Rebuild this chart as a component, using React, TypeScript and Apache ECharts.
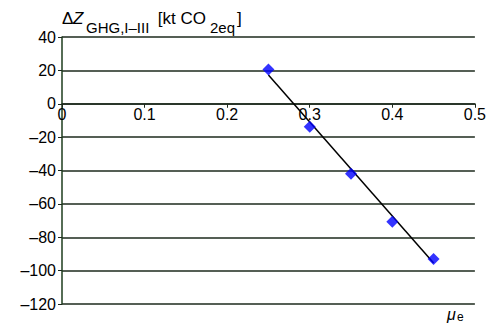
import React, { useEffect, useRef } from "react";
import * as echarts from "echarts";

const muValues = [0.25, 0.3, 0.35, 0.4, 0.45];
const deltaZ = [20.5, -13.8, -42, -70.7, -93];
const trendX = [0.25, 0.45];
const trendY = [17.2, -95.5];
const yTicks = { min: -120, max: 40, interval: 20 };
const xTicks = { min: 0, max: 0.5, interval: 0.1 };

const FONT = "Liberation Sans, Arial, sans-serif";
const GRID = "#1d2a1d";
const TOP = 37;
const BOTTOM = 20;
const H = 324;

export default function App() {
  const ref = useRef<HTMLDivElement>(null);
  useEffect(() => {
    if (!ref.current) return;
    const chart = echarts.init(ref.current, undefined, { renderer: "svg" });
    const fmt = (v: number) => (v < 0 ? "\u2013" + Math.abs(v) : String(v));
    const plotH = H - TOP - BOTTOM;
    const zeroOffset = -plotH * (0 - yTicks.min) / (yTicks.max - yTicks.min);
    chart.setOption({
      animation: false,
      backgroundColor: "#ffffff",
      grid: { left: 62, right: 10, top: TOP, bottom: BOTTOM, containLabel: false },
      xAxis: {
        type: "value",
        min: xTicks.min,
        max: xTicks.max,
        interval: xTicks.interval,
        offset: zeroOffset,
        axisLine: { onZero: false, lineStyle: { color: GRID, width: 1.5 } },
        axisTick: { show: true, length: 4, lineStyle: { color: GRID } },
        axisLabel: {
          color: "#000",
          fontFamily: FONT,
          fontSize: 16,
          margin: 3,
          formatter: (v: number) => (v === 0 ? "0" : v.toFixed(1)),
        },
        splitLine: { show: false },
      },
      yAxis: {
        type: "value",
        min: yTicks.min,
        max: yTicks.max,
        interval: yTicks.interval,
        axisLine: { show: true, onZero: false, lineStyle: { color: "#1e3d1e", width: 1.5 } },
        axisTick: { show: true, length: 4, lineStyle: { color: GRID } },
        axisLabel: { color: "#000", fontFamily: FONT, fontSize: 16, margin: 6, formatter: fmt },
        splitLine: { show: true, lineStyle: { color: GRID, width: 1.5 } },
      },
      series: [
        {
          type: "line",
          data: trendX.map((x, i) => [x, trendY[i]]),
          symbol: "none",
          lineStyle: { color: "#000", width: 1.5 },
          z: 2,
        },
        {
          type: "scatter",
          data: muValues.map((x, i) => [x, deltaZ[i]]),
          symbol: "diamond",
          symbolSize: 12,
          itemStyle: { color: "#0000ff" },
          z: 3,
        },
      ],
      graphic: [
        { type: "text", left: 62, top: 10, style: { text: "\u0394", font: `17px ${FONT}`, fill: "#000" } },
        { type: "text", left: 73, top: 10, style: { text: "Z", font: `italic 17px ${FONT}`, fill: "#000" } },
        { type: "text", left: 86, top: 20, style: { text: "GHG,I\u2013III", font: `15px ${FONT}`, fill: "#000" } },
        { type: "text", left: 153, top: 10, style: { text: " [kt CO", font: `17px ${FONT}`, fill: "#000" } },
        { type: "text", left: 210, top: 20, style: { text: "2eq", font: `15px ${FONT}`, fill: "#000" } },
        { type: "text", left: 237, top: 10, style: { text: "]", font: `17px ${FONT}`, fill: "#000" } },
        { type: "text", left: 447, top: 306, style: { text: "\u03bc", font: `italic 16px ${FONT}`, fill: "#000" } },
        { type: "text", left: 457, top: 311, style: { text: "e", font: `12px ${FONT}`, fill: "#000" } },
      ],
    });
    return () => chart.dispose();
  }, []);
  return <div ref={ref} style={{ width: 489, height: 324, position: "absolute", left: 0, top: 0 }} />;
}
